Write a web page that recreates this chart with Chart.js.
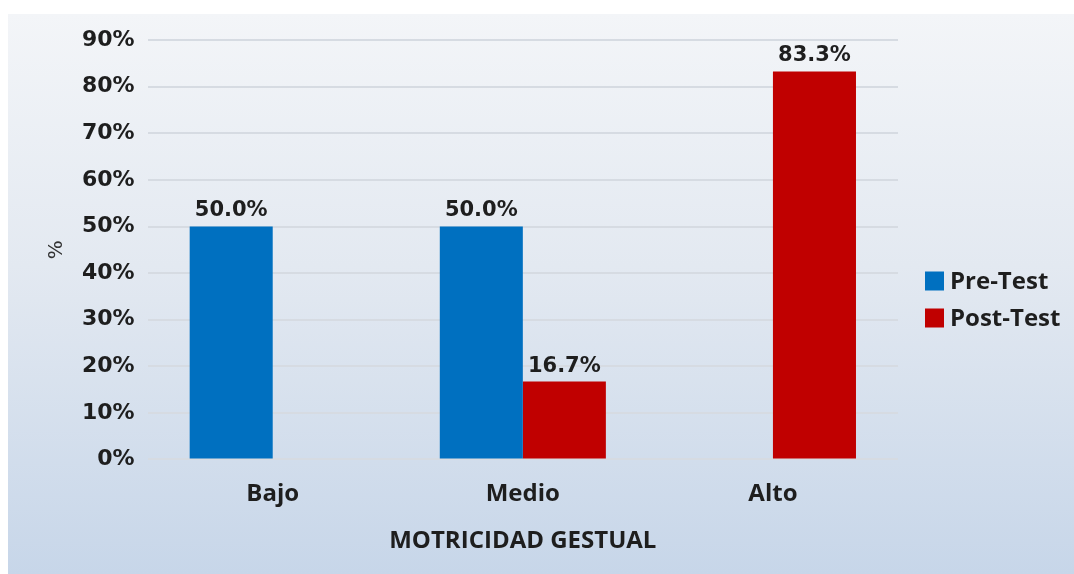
<!DOCTYPE html>
<html>
<head>
<meta charset="utf-8">
<script src="https://cdn.jsdelivr.net/npm/chart.js@4.4.1/dist/chart.umd.min.js"></script>
<style>
  html, body { margin: 0; padding: 0; background: #ffffff; }
  .box {
    position: absolute; left: 8px; top: 14px; width: 1066px; height: 560px;
    background: linear-gradient(to bottom, #f3f5f8 0%, #e3e9f1 45%, #c7d6e9 100%);
  }
</style>
</head>
<body>
<div class="box"><canvas id="chart" width="1066" height="560"></canvas></div>
<script>
const categories = ["Bajo", "Medio", "Alto"];
const preTest = [50.0, 50.0, null];
const postTest = [null, 16.7, 83.3];
const yTicks = [0, 10, 20, 30, 40, 50, 60, 70, 80, 90];

const valueLabels = {
  id: "valueLabels",
  afterDatasetsDraw(chart) {
    const ctx = chart.ctx;
    ctx.save();
    ctx.font = "bold 21px 'DejaVu Sans'";
    ctx.fillStyle = "#1e1e1e";
    ctx.textAlign = "center";
    ctx.textBaseline = "bottom";
    chart.data.datasets.forEach((ds, i) => {
      chart.getDatasetMeta(i).data.forEach((bar, j) => {
        const v = ds.data[j];
        if (v === null) return;
        ctx.fillText(v.toFixed(1) + "%", bar.x, bar.y - 5);
      });
    });
    ctx.restore();
  }
};

// legend on the right, drawn by hand so the spacing matches
const sideLegend = {
  id: "sideLegend",
  afterDraw(chart) {
    const ctx = chart.ctx;
    const area = chart.chartArea;
    const x = area.right + 27;
    const y0 = 267;
    ctx.save();
    ctx.font = "bold 24px 'Open Sans'";
    ctx.textBaseline = "middle";
    ctx.textAlign = "left";
    chart.data.datasets.forEach((ds, i) => {
      const y = y0 + i * 37;
      ctx.fillStyle = ds.backgroundColor;
      ctx.fillRect(x, y - 9.5, 19, 19);
      ctx.fillStyle = "#1e1e1e";
      ctx.fillText(ds.label, x + 25, y + 1);
    });
    ctx.restore();
  }
};

new Chart(document.getElementById("chart"), {
  type: "bar",
  data: {
    labels: categories,
    datasets: [
      { label: "Pre-Test", data: preTest, backgroundColor: "#0070c0" },
      { label: "Post-Test", data: postTest, backgroundColor: "#c00000" }
    ]
  },
  options: {
    responsive: false,
    animation: false,
    categoryPercentage: 0.664,
    barPercentage: 1,
    layout: { padding: { left: 37, top: 24, right: 176, bottom: 14 } },
    scales: {
      x: {
        grid: { display: false },
        border: { display: false },
        ticks: { color: "#1e1e1e", font: { family: "'Open Sans'", size: 24, weight: "bold" }, padding: 12 },
        title: { display: true, text: "MOTRICIDAD GESTUAL", color: "#1e1e1e", font: { family: "'Open Sans'", size: 24, weight: "bold" }, padding: { top: 7, bottom: 4 } }
      },
      y: {
        min: 0, max: 90,
        afterBuildTicks: (axis) => { axis.ticks = yTicks.map(v => ({ value: v })); },
        grid: { color: "#d6dbe2", lineWidth: 2, drawTicks: false },
        border: { display: false },
        ticks: { color: "#1e1e1e", font: { family: "'DejaVu Sans'", size: 22, weight: "bold" }, padding: 13, callback: v => v + "%" },
        title: { display: true, text: "%", color: "#333333", font: { family: "'DejaVu Sans'", size: 20 }, padding: { top: 0, bottom: 0 } }
      }
    },
    plugins: {
      legend: { display: false },
      tooltip: { enabled: false }
    }
  },
  plugins: [valueLabels, sideLegend]
});
</script>
</body>
</html>
